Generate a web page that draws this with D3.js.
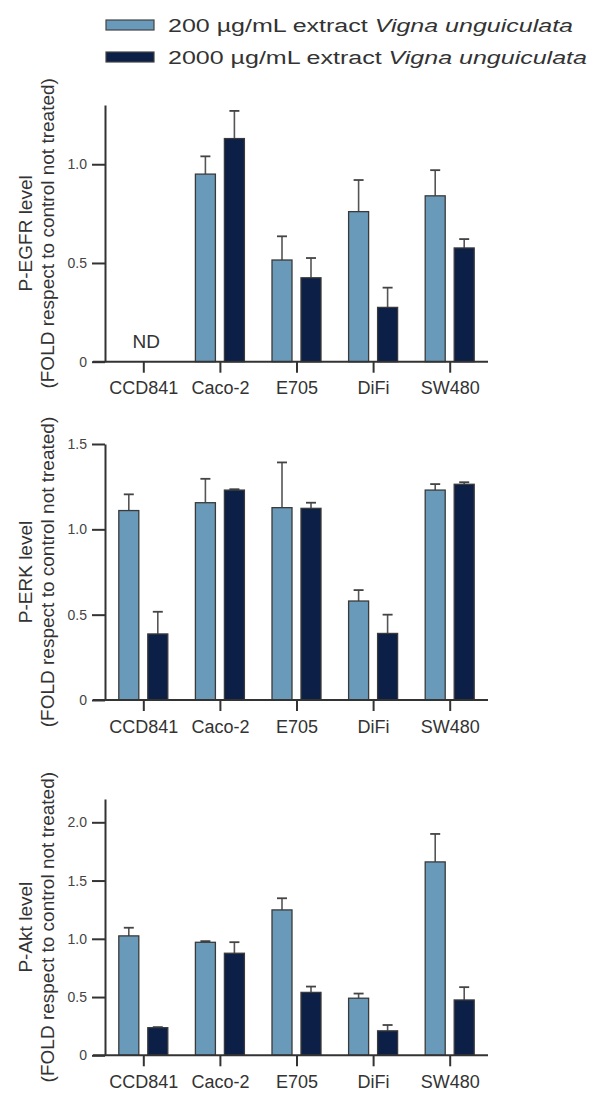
<!DOCTYPE html>
<html>
<head>
<meta charset="utf-8">
<script src="https://cdn.jsdelivr.net/npm/d3@7"></script>
<style>
  html, body { margin: 0; padding: 0; background: #fff; }
  svg { display: block; font-family: "Liberation Sans", Arial, Helvetica, sans-serif; }
</style>
</head>
<body>
<svg id="chart" width="591" height="1093"></svg>
<script>
// Cell lines on the x axis
const cells = ["CCD841", "Caco-2", "E705", "DiFi", "SW480"];
const doses = ["200", "2000"];

// P-EGFR (fold vs untreated control); CCD841 not determined
const egfr200 = [null, 0.95, 0.515, 0.76, 0.84];
const egfr200Err = [null, 0.09, 0.12, 0.16, 0.13];
const egfr2000 = [null, 1.13, 0.425, 0.275, 0.576];
const egfr2000Err = [null, 0.14, 0.10, 0.10, 0.045];

// P-ERK
const erk200 = [1.11, 1.156, 1.127, 0.58, 1.23];
const erk200Err = [0.095, 0.14, 0.265, 0.064, 0.035];
const erk2000 = [0.387, 1.23, 1.123, 0.39, 1.264];
const erk2000Err = [0.13, 0.005, 0.033, 0.11, 0.012];

// P-Akt
const akt200 = [1.025, 0.97, 1.248, 0.49, 1.66];
const akt200Err = [0.07, 0.01, 0.10, 0.04, 0.24];
const akt2000 = [0.237, 0.876, 0.54, 0.21, 0.475];
const akt2000Err = [0.005, 0.095, 0.05, 0.05, 0.11];

// Axis ticks per panel
const egfrTicks = [0, 0.5, 1.0];
const erkTicks = [0, 0.5, 1.0, 1.5];
const aktTicks = [0, 0.5, 1.0, 1.5, 2.0];

const legendLabels = ["200 µg/mL extract ", "2000 µg/mL extract "];
const speciesName = "Vigna unguiculata";

const colors = { "200": "#6a9aba", "2000": "#0c1f47" };
const textColor = "#333";
const axisColor = "#333";

const svg = d3.select("#chart");

// Legend (text drawn wide)
const legend = svg.append("g");
doses.forEach((d, i) => {
  const y = 20 + i * 32;
  legend.append("rect")
    .attr("x", 106).attr("y", y).attr("width", 48).attr("height", 10)
    .attr("fill", colors[d]).attr("stroke", "#444").attr("stroke-width", 1.2);
  const t = legend.append("text")
    .attr("transform", `translate(168,${y + 12}) scale(1.39,1)`)
    .attr("font-size", 18).attr("fill", textColor);
  t.append("tspan").text(legendLabels[i]);
  t.append("tspan").attr("font-style", "italic").text(speciesName);
});

const x = d3.scalePoint().domain(cells).range([105, 488]).padding(0.5);
const xInner = d3.scaleBand().domain(doses).range([-24.5, 24.5]).paddingInner(0.31);

function panel(cfg) {
  const g = svg.append("g");
  const y = d3.scaleLinear().domain([0, cfg.max]).range([cfg.bottom, cfg.top]);

  // y axis
  const yAxis = d3.axisLeft(y).tickValues(cfg.ticks).tickSize(13).tickSizeOuter(0).tickPadding(5)
    .tickFormat(v => v === 0 ? "0" : d3.format(".1f")(v));
  const ya = g.append("g").attr("transform", "translate(105,0)").call(yAxis);
  ya.select(".domain").attr("stroke", axisColor).attr("stroke-width", 2);
  ya.selectAll(".tick line").attr("stroke", axisColor).attr("stroke-width", 2);
  ya.selectAll(".tick text").attr("font-size", 14).attr("fill", "#444")
    .attr("font-family", "\"Liberation Sans\", Arial, sans-serif");

  // bars
  const rows = cells.map((c, i) => ({ c, vals: [
    { d: "200", v: cfg.a[i], e: cfg.aErr[i] },
    { d: "2000", v: cfg.b[i], e: cfg.bErr[i] }
  ]}));
  const grp = g.selectAll(".grp").data(rows).join("g")
    .attr("transform", r => `translate(${x(r.c)},0)`);
  const items = grp.selectAll(".bar").data(r => r.vals.filter(v => v.v != null)).join("g");

  // error bars (upper only)
  items.append("line")
    .attr("x1", v => xInner(v.d) + xInner.bandwidth() / 2)
    .attr("x2", v => xInner(v.d) + xInner.bandwidth() / 2)
    .attr("y1", v => y(v.v)).attr("y2", v => y(v.v + v.e))
    .attr("stroke", "#555").attr("stroke-width", 1.6);
  items.append("line")
    .attr("x1", v => xInner(v.d) + xInner.bandwidth() / 2 - 5)
    .attr("x2", v => xInner(v.d) + xInner.bandwidth() / 2 + 5)
    .attr("y1", v => y(v.v + v.e)).attr("y2", v => y(v.v + v.e))
    .attr("stroke", "#444").attr("stroke-width", 1.8);

  items.append("rect")
    .attr("x", v => xInner(v.d))
    .attr("width", xInner.bandwidth())
    .attr("y", v => y(v.v))
    .attr("height", v => y(0) - y(v.v))
    .attr("fill", v => colors[v.d])
    .attr("stroke", "#3a3a3a").attr("stroke-width", 1.3);

  // x axis
  g.append("line")
    .attr("x1", 93).attr("x2", 488)
    .attr("y1", y(0)).attr("y2", y(0))
    .attr("stroke", axisColor).attr("stroke-width", 2);
  const xAxis = d3.axisBottom(x).tickSize(11).tickSizeOuter(0).tickPadding(9);
  const xa = g.append("g").attr("transform", `translate(0,${y(0)})`).call(xAxis);
  xa.select(".domain").remove();
  xa.selectAll(".tick line").attr("stroke", axisColor).attr("stroke-width", 2);
  xa.selectAll(".tick text").attr("font-size", 18).attr("fill", textColor)
    .attr("font-family", "\"Liberation Sans\", Arial, sans-serif");

  // not-determined marks
  cells.forEach((c, i) => {
    if (cfg.a[i] == null && cfg.b[i] == null) {
      g.append("text").attr("x", x(c) + 3).attr("y", y(0) - 14)
        .attr("text-anchor", "middle").attr("font-size", 19).attr("fill", textColor)
        .text("ND");
    }
  });

  // y axis title, two lines
  const cy = (cfg.top + cfg.bottom) / 2;
  const title = g.append("text")
    .attr("transform", `translate(32,${cy}) rotate(-90)`)
    .attr("text-anchor", "middle").attr("font-size", 19).attr("fill", textColor);
  title.append("tspan").attr("x", 0).attr("y", 0).text(cfg.label);
  title.append("tspan").attr("x", 0).attr("y", 22).text("(FOLD respect to control not treated)");
}

panel({ label: "P-EGFR level", max: 1.3, top: 105, bottom: 361.7, ticks: egfrTicks,
  a: egfr200, aErr: egfr200Err, b: egfr2000, bErr: egfr2000Err });
panel({ label: "P-ERK level", max: 1.5, top: 444, bottom: 700, ticks: erkTicks,
  a: erk200, aErr: erk200Err, b: erk2000, bErr: erk2000Err });
panel({ label: "P-Akt level", max: 2.2, top: 799, bottom: 1055.3, ticks: aktTicks,
  a: akt200, aErr: akt200Err, b: akt2000, bErr: akt2000Err });
</script>
</body>
</html>
